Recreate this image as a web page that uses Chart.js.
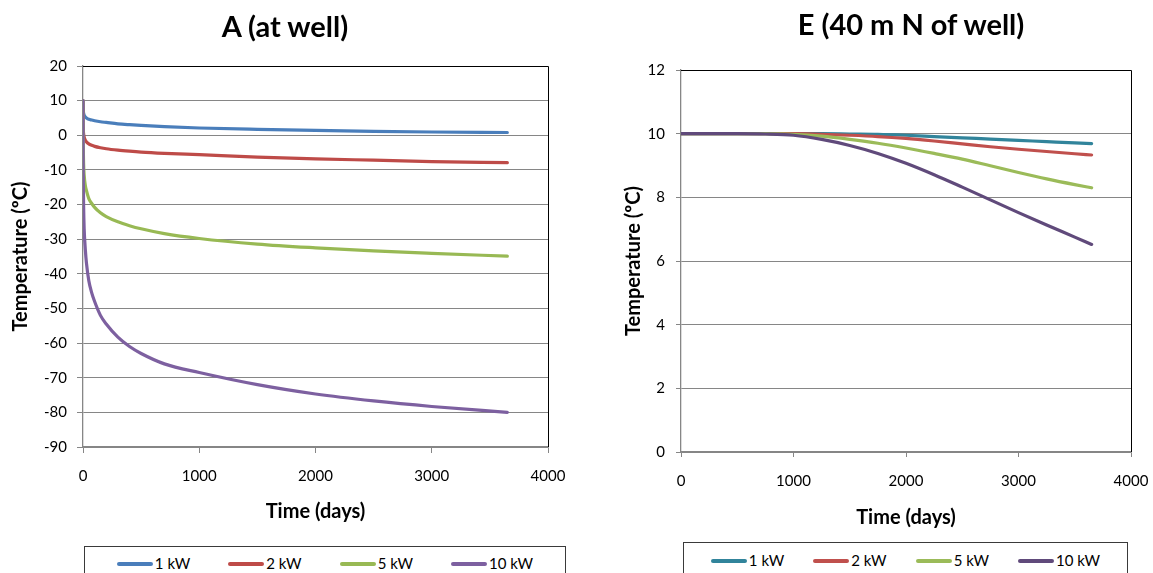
<!DOCTYPE html>
<html><head><meta charset="utf-8">
<script src="https://cdn.jsdelivr.net/npm/chart.js@4.4.1/dist/chart.umd.min.js"></script>
<style>
html,body{margin:0;padding:0;background:#fff;}
#wrap{position:relative;width:1153px;height:573px;overflow:hidden;background:#fff;font-family:Lato,"Open Sans",sans-serif;color:#000;}
canvas{position:absolute;top:0;}
.title{position:absolute;font-weight:bold;font-size:29px;white-space:nowrap;transform:translate(-50%,-50%);line-height:1;}
.legend{position:absolute;border:1px solid #3a3a3a;background:#fff;height:60px;box-sizing:border-box;}
.items{position:absolute;left:0;right:0;display:flex;justify-content:center;align-items:center;}
.item{display:flex;align-items:center;font-size:15px;line-height:1;white-space:nowrap;}
.swatch{display:inline-block;width:36px;height:4px;border-radius:2px;margin-right:2px;}
</style>
</head><body>
<div id="wrap">
  <canvas id="chartA" width="576" height="573" style="left:0px;width:576px;height:573px"></canvas>
  <canvas id="chartE" width="577" height="573" style="left:576px;width:577px;height:573px"></canvas>
  <div class="title" style="left:285px;top:24.5px">A (at well)</div>
  <div class="title" style="left:911px;top:23px">E (40 m N of well)</div>
  <div class="legend" id="legA" style="left:84px;top:546px;width:482px;"><div class="items" style="top:9px;gap:38px"></div></div>
  <div class="legend" id="legE" style="left:683px;top:542px;width:445px;"><div class="items" style="top:10px;gap:29px"></div></div>
</div>
<script>
// ---- data ----
const seriesNames = ['1 kW', '2 kW', '5 kW', '10 kW'];
const xTicks = [0, 1000, 2000, 3000, 4000];

// Chart A (at well)
const timesA = [0, 1, 2, 5, 10, 20, 30, 50, 75, 100, 150, 200, 300, 400, 500, 700, 1000, 1500, 2000, 2500, 3000, 3650];
const a1kW  = [10, 8, 7.3, 6.4, 5.8, 5.3, 5.0, 4.6, 4.4, 4.2, 3.9, 3.7, 3.3, 3.05, 2.85, 2.5, 2.1, 1.7, 1.4, 1.15, 0.95, 0.8];
const a2kW  = [10, 4, 2, 0.5, -0.5, -1.4, -1.9, -2.5, -2.9, -3.2, -3.6, -3.9, -4.3, -4.6, -4.85, -5.2, -5.6, -6.3, -6.8, -7.2, -7.6, -7.9];
const a5kW  = [10, 0, -3, -8, -11.5, -14.5, -16, -18.3, -19.7, -20.8, -22.4, -23.5, -25, -26.1, -27, -28.4, -29.8, -31.4, -32.5, -33.4, -34.1, -34.9];
const a10kW = [10, -5, -11, -20, -27, -33, -37, -42, -45.5, -48, -52, -54.5, -58.3, -61, -63, -66, -68.5, -72, -74.7, -76.7, -78.3, -80];
const yTicksA = [-90, -80, -70, -60, -50, -40, -30, -20, -10, 0, 10, 20];

// Chart E (40 m N of well)
const timesE = [0, 250, 500, 750, 1000, 1250, 1500, 1750, 2000, 2250, 2500, 2750, 3000, 3250, 3500, 3650];
const e1kW  = [10, 10, 10, 10, 10, 10, 9.99, 9.98, 9.95, 9.91, 9.87, 9.83, 9.79, 9.75, 9.71, 9.69];
const e2kW  = [10, 10, 10, 10, 10, 9.98, 9.95, 9.91, 9.85, 9.77, 9.68, 9.59, 9.51, 9.44, 9.37, 9.33];
const e5kW  = [10, 10, 10, 10, 9.98, 9.92, 9.82, 9.7, 9.55, 9.38, 9.2, 8.99, 8.78, 8.58, 8.4, 8.3];
const e10kW = [10, 10, 10, 9.99, 9.95, 9.82, 9.63, 9.38, 9.07, 8.71, 8.32, 7.92, 7.52, 7.13, 6.75, 6.52];
const yTicksE = [0, 2, 4, 6, 8, 10, 12];

// ---- styles ----
const colorsA = ['#4a7ebb', '#be4b48', '#98b954', '#7d60a0'];
const colorsE = ['#31849b', '#c0504d', '#9bbb59', '#604a7b'];
const FONT = "Lato, 'Open Sans', sans-serif";
const GRID = '#868686';

const frame = {
  id: 'frame',
  afterDraw(chart) {
    const {ctx, chartArea: {top, right, left, bottom}} = chart;
    ctx.save();
    ctx.strokeStyle = '#000';
    ctx.lineWidth = 1;
    ctx.beginPath();
    const t = Math.round(top) + 0.5, r = Math.round(right) + 0.5;
    ctx.moveTo(left, t); ctx.lineTo(r, t); ctx.lineTo(r, bottom);
    ctx.stroke();
    ctx.restore();
  }
};

function toPoints(xs, ys) { return xs.map((x, i) => ({x: x, y: ys[i]})); }

function makeChart(id, times, seriesList, colors, opt) {
  const datasets = seriesList.map((s, i) => ({
    label: seriesNames[i],
    data: toPoints(times, s),
    order: seriesList.length - i,
    borderColor: colors[i],
    backgroundColor: colors[i],
    borderWidth: 3.2,
    pointRadius: 0,
    fill: false,
    cubicInterpolationMode: 'monotone',
    borderCapStyle: 'round',
    borderJoinStyle: 'round'
  }));
  return new Chart(document.getElementById(id), {
    type: 'line',
    data: {datasets},
    plugins: [frame],
    options: {
      responsive: false,
      animation: false,
      devicePixelRatio: 1,
      layout: {padding: opt.padding},
      plugins: {legend: {display: false}, title: {display: false}, tooltip: {enabled: false}},
      scales: {
        x: {
          type: 'linear', min: 0, max: 4000,
          afterBuildTicks: s => { s.ticks = xTicks.map(v => ({value: v})); },
          afterFit: s => { s.height = opt.xHeight; s.paddingLeft = 0; s.paddingRight = 0; },
          grid: {drawOnChartArea: false, drawTicks: true, tickLength: opt.tickLen, color: GRID, lineWidth: 1},
          border: {color: GRID, width: 1.3},
          ticks: {font: {family: FONT, size: 15}, color: '#000', padding: opt.xTickPad, maxRotation: 0, callback: v => String(v)},
          title: {display: true, text: 'Time (days)', font: {family: FONT, size: 20, weight: 'bold'}, color: '#000', padding: {top: 0, bottom: opt.xTitlePad}}
        },
        y: {
          type: 'linear', min: opt.yTicks[0], max: opt.yTicks[opt.yTicks.length - 1],
          afterBuildTicks: s => { s.ticks = opt.yTicks.map(v => ({value: v})); },
          afterFit: s => { s.width = opt.yWidth; s.paddingTop = 0; s.paddingBottom = 0; },
          grid: {drawTicks: true, tickLength: opt.tickLen, color: GRID, lineWidth: 1},
          border: {color: GRID, width: 1.3},
          ticks: {font: {family: FONT, size: 15}, color: '#000', padding: opt.yTickPad, callback: v => String(v)},
          title: {display: true, text: 'Temperature (ºC)', font: {family: FONT, size: 20, weight: 'bold'}, color: '#000', padding: {top: opt.yTitlePad, bottom: 0}}
        }
      }
    }
  });
}

makeChart('chartA', timesA, [a1kW, a2kW, a5kW, a10kW], colorsA, {
  padding: {left: 0, top: 66, right: 28, bottom: 0},
  xHeight: 126, yWidth: 83, tickLen: 6, xTickPad: 14, yTickPad: 10,
  xTitlePad: 49, yTitlePad: 8.5, yTicks: yTicksA
});
makeChart('chartE', timesE, [e1kW, e2kW, e5kW, e10kW], colorsE, {
  padding: {left: 0, top: 70, right: 22, bottom: 0},
  xHeight: 121, yWidth: 105, tickLen: 5, xTickPad: 15, yTickPad: 11,
  xTitlePad: 43, yTitlePad: 45.5, yTicks: yTicksE
});

function buildLegend(id, colors) {
  const box = document.querySelector('#' + id + ' .items');
  seriesNames.forEach((n, i) => {
    const it = document.createElement('div'); it.className = 'item';
    const sw = document.createElement('span'); sw.className = 'swatch'; sw.style.background = colors[i];
    const tx = document.createElement('span'); tx.textContent = n;
    it.appendChild(sw); it.appendChild(tx); box.appendChild(it);
  });
}
buildLegend('legA', colorsA);
buildLegend('legE', colorsE);
</script>
</body></html>
